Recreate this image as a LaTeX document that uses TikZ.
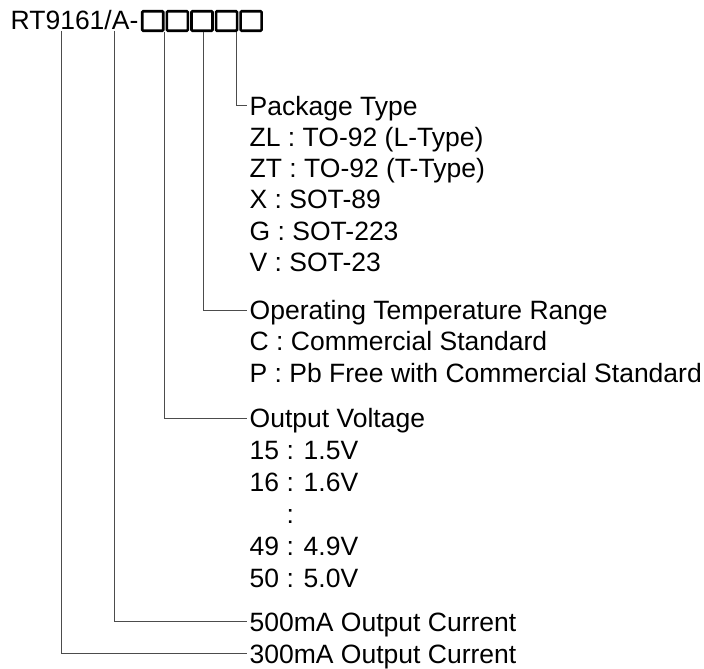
\documentclass[tikz,border=0pt]{standalone}
\usepackage{fontspec}
\setmainfont{Liberation Sans}
\begin{document}
\begin{tikzpicture}[x=1pt,y=-1pt,
  lbl/.style={anchor=base west, inner xsep=2.5pt, inner ysep=0pt, text height=18.5pt, text depth=0pt, font=\fontsize{26.5}{31}\selectfont},
  slot/.style={draw, line width=2.6pt, minimum width=21pt, minimum height=19.5pt, inner sep=0pt, rounded corners=1pt},
  conn/.style={draw=black!70, line width=1pt}]
\useasboundingbox (0,0) rectangle (704,669);
% part number
\node[lbl, inner xsep=0pt] (title) at (10.5,29.5) {RT9161/A-};
\foreach \i in {1,...,5} {
  \node[slot] (b\i) at ({152.75+24.6*(\i-1)},21) {};
}
% line tops
\coordinate (s1) at (61,31);
\coordinate (s2) at (114,31);
\coordinate (s3) at (164,32);
\coordinate (s4) at (203,32);
\coordinate (s5) at (236,32);
% package type
\node[lbl] (pkg) at (247,115) {Package Type};
\node[lbl] (zl) at (247,146.3) {ZL : TO-92 (L-Type)};
\node[lbl] (zt) at (247,177.6) {ZT : TO-92 (T-Type)};
\node[lbl] (x) at (247,208.9) {X : SOT-89};
\node[lbl] (g) at (247,240.2) {G : SOT-223};
\node[lbl] (v) at (247,271.5) {V : SOT-23};
% temperature
\node[lbl] (temp) at (247,319.5) {Operating Temperature Range};
\node[lbl] (c) at (247,350.8) {C : Commercial Standard};
\node[lbl] (p) at (247,382.1) {P : Pb Free with Commercial Standard};
% output voltage
\node[lbl] (vout) at (247,427.5) {Output Voltage};
\node[lbl] (v15) at (247,459.5) {15 : 1.5V};
\node[lbl] (v16) at (247,491.5) {16 : 1.6V};
\node[lbl] (vdots) at (247,523.5) {\hphantom{15 }:};
\node[lbl] (v49) at (247,555.5) {49 : 4.9V};
\node[lbl] (v50) at (247,587.5) {50 : 5.0V};
% currents
\node[lbl] (c500) at (247,631) {500mA Output Current};
\node[lbl] (c300) at (247,663) {300mA Output Current};
% connectors
\draw[conn] (s5) |- (pkg.west);
\draw[conn] (s4) |- (temp.west);
\draw[conn] (s3) |- (vout.west);
\draw[conn] (s2) |- (c500.west);
\draw[conn] (s1) |- (c300.west);
\end{tikzpicture}
\end{document}
